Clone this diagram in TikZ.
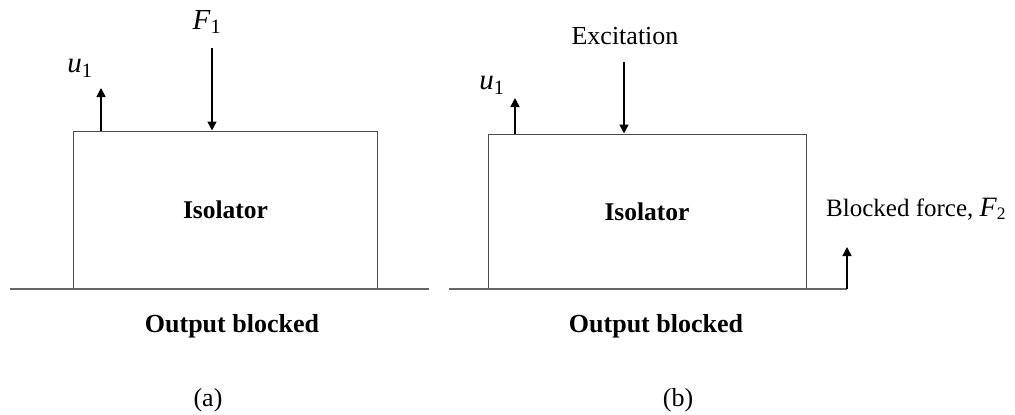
\documentclass[tikz,border=0pt]{standalone}
\usepackage{fontspec}
\setmainfont{Liberation Serif}
\usetikzlibrary{arrows.meta,positioning}

\begin{document}
\begin{tikzpicture}[
    x=1pt, y=-1pt,
    font=\fontsize{26}{30}\selectfont,
    iso/.style={draw=black!70, line width=1pt, inner sep=0pt, font=\fontsize{25.5}{30}\selectfont\bfseries},
    ground/.style={line width=2pt, draw=black!60},
    force/.style={-{Triangle[width=9pt,length=9pt]}, line width=1.5pt},
    sym/.style={inner sep=0pt, font=\fontsize{29}{32}\selectfont},
    caption/.style={inner sep=0pt, font=\fontsize{26}{30}\selectfont\bfseries}
]
\useasboundingbox (0,0) rectangle (1015,415);

% (a) output blocked, force input
\node[iso, minimum width=304, minimum height=158] (isoA) at (225.5,210) {Isolator};
\coordinate (gA1) at (10,289);
\coordinate (gA2) at (429,289);
\draw[ground] (gA1) -- (gA2);
\coordinate (uAtip) at (101,88);
\draw[force] (isoA.north -| uAtip) -- (uAtip);
\coordinate (fAtop) at (212,48);
\draw[force] (fAtop) -- (fAtop |- isoA.north);
\node[sym] (uAlbl) at (80,68) {\textit{u}\textsubscript{1}};
\node[sym] (fAlbl) at (207,22) {\textit{F}\textsubscript{1}};
\node[caption] (outA) at (232,326) {Output blocked};
\node[inner sep=0pt] (capA) at (208,400) {(a)};

% (b) output blocked, excitation input
\node[iso, minimum width=318, minimum height=155] (isoB) at (647,211.5) {Isolator};
\coordinate (gB1) at (449,289);
\coordinate (gB2) at (847,289);
\draw[ground] (gB1) -- (gB2);
\coordinate (uBtip) at (515,98);
\draw[force] (isoB.north -| uBtip) -- (uBtip);
\coordinate (eBtop) at (624,62);
\draw[force] (eBtop) -- (eBtop |- isoB.north);
\coordinate (bfTip) at (847,247);
\draw[force] (gB2) -- (bfTip);
\node[sym] (uBlbl) at (492,85) {\textit{u}\textsubscript{1}};
\node[inner sep=0pt] (eBlbl) at (625,36) {Excitation};
\node[anchor=base west, inner sep=0pt, font=\fontsize{25}{30}\selectfont] (bfLbl) at (826,216) {Blocked force, {\fontsize{28}{30}\selectfont\textit{F}}\textsubscript{2}};
\node[caption] (outB) at (656,326) {Output blocked};
\node[inner sep=0pt] (capB) at (678,400) {(b)};
\end{tikzpicture}
\end{document}
